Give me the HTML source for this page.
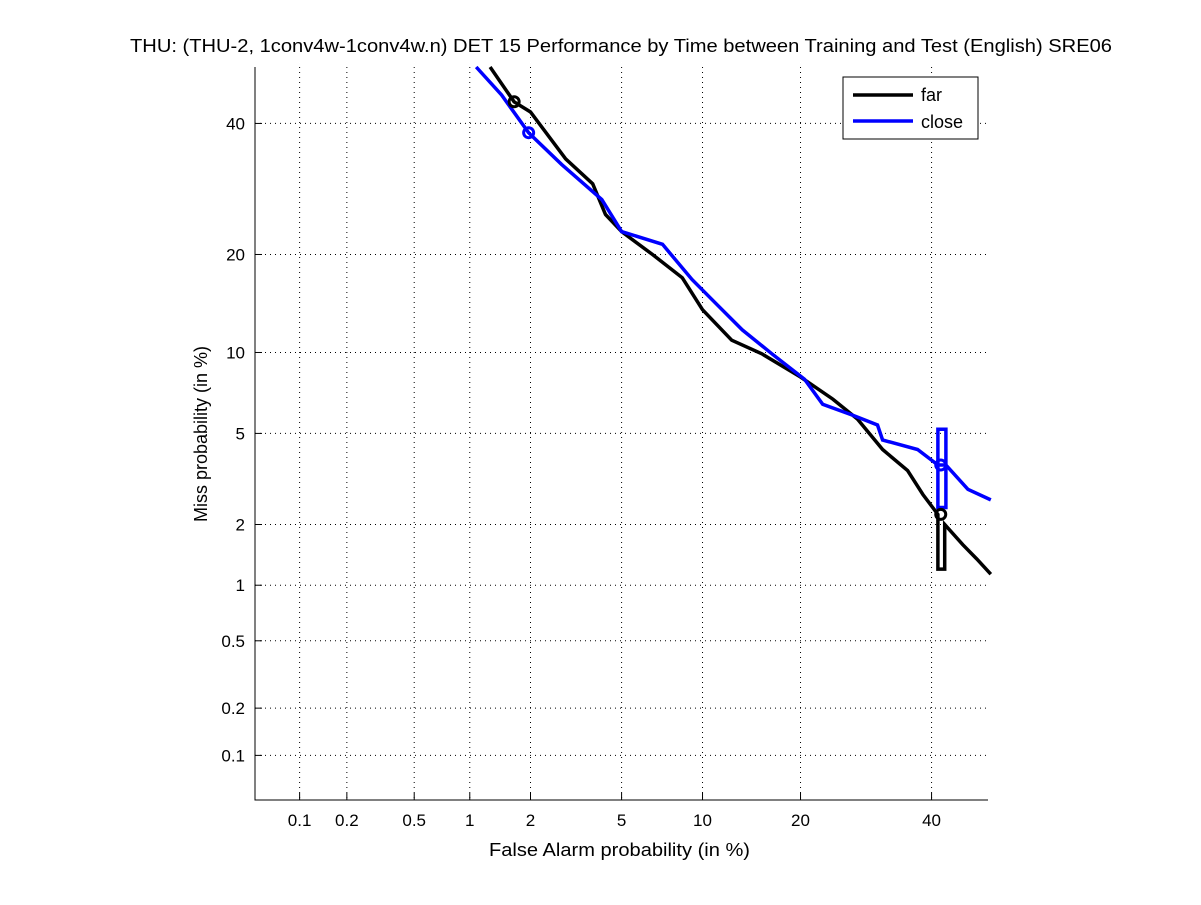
<!DOCTYPE html>
<html><head><meta charset="utf-8"><style>
body{margin:0;background:#fff;}
svg text{font-family:"Liberation Sans",sans-serif;fill:#000;}
</style></head><body>
<svg id="c" width="1201" height="900"></svg>
<script>
const xTickVals=[0.1,0.2,0.5,1,2,5,10,20,40];
const yTickVals=[0.1,0.2,0.5,1,2,5,10,20,40];
const farFA=[1.27,1.67,2.0,2.9,3.8,4.3,5,6.6,8.5,10,12.5,15.5,20,24.3,27.9,31.8,35.9,38.5,41.1,41.1,42.3,42.3,45.5,48,50.5];
const farMiss=[50,43.8,42,34,30,25.4,23,20,17.2,13.8,11,9.9,8.2,6.8,5.7,4.3,3.5,2.75,2.23,1.21,1.21,2.0,1.6,1.36,1.14];
const closeFA=[1.08,1.45,1.96,2.78,4.15,5,7.2,9.2,11.2,13.5,16.6,20.5,22.9,27.2,31,31.8,37.6,41.1,41.1,42.5,42.5,41.1,41.1,42.5,46.4,50.5];
const closeMiss=[50,45,38.4,33.1,27.6,23,21.3,17,14.3,11.9,9.9,8.05,6.5,5.9,5.4,4.7,4.3,3.7,5.2,5.2,2.4,2.4,3.7,3.7,2.9,2.6];
const farMarks=[[1.67,43.8],[41.6,2.23]];
const closeMarks=[[1.96,38.4],[41.6,3.7]];
function ppf(p){const a=[-39.6968302866538,220.946098424521,-275.928510446969,138.357751867269,-30.6647980661472,2.50662827745924],b=[-54.4760987982241,161.585836858041,-155.698979859887,66.8013118877197,-13.2806815528857],c=[-0.00778489400243029,-0.322396458041136,-2.40075827716184,-2.54973253934373,4.37466414146497,2.93816398269878],d=[0.00778469570904146,0.32246712907004,2.445134137143,3.75440866190742];let q,r;
if(p<0.02425){q=Math.sqrt(-2*Math.log(p));return(((((c[0]*q+c[1])*q+c[2])*q+c[3])*q+c[4])*q+c[5])/((((d[0]*q+d[1])*q+d[2])*q+d[3])*q+1);}
if(p>1-0.02425){q=Math.sqrt(-2*Math.log(1-p));return-(((((c[0]*q+c[1])*q+c[2])*q+c[3])*q+c[4])*q+c[5])/((((d[0]*q+d[1])*q+d[2])*q+d[3])*q+1);}
q=p-0.5;r=q*q;return(((((a[0]*r+a[1])*r+a[2])*r+a[3])*r+a[4])*r+a[5])*q/(((((b[0]*r+b[1])*r+b[2])*r+b[3])*r+b[4])*r+1);}
const L=255,R=988,T=67,B=800,P0=ppf(0.0005),P1=0.0;
const X=v=>L+(ppf(v/100)-P0)/(P1-P0)*(R-L);
const Y=v=>B-(ppf(v/100)-P0)/(P1-P0)*(B-T);
const svg=document.getElementById('c');const NS='http://www.w3.org/2000/svg';
function mk(t,at,txt){const e=document.createElementNS(NS,t);for(const k in at)e.setAttribute(k,at[k]);if(txt!==undefined)e.textContent=txt;svg.appendChild(e);return e;}
let e=mk('rect',{x:L,y:T,width:R-L,height:B-T,fill:'#fff',stroke:'none'});

xTickVals.forEach(v=>{const x=X(v);
e=mk('line',{x1:x,x2:x,y1:T,y2:B,stroke:'#000','stroke-dasharray':'1,4','stroke-width':1});
e=mk('line',{x1:x,x2:x,y1:B,y2:B-7,stroke:'#000'});
e=mk('text',{x:x,y:B+26,'text-anchor':'middle','font-size':17},String(v));});
yTickVals.forEach(v=>{const y=Y(v);
e=mk('line',{x1:L,x2:R,y1:y,y2:y,stroke:'#000','stroke-dasharray':'1,4','stroke-width':1});
e=mk('line',{x1:L,x2:L+7,y1:y,y2:y,stroke:'#000'});
e=mk('text',{x:L-10,y:y+6,'text-anchor':'end','font-size':17},String(v));});
function series(fa,ms,col,name){const pts=fa.map((v,i)=>X(v).toFixed(1)+','+Y(ms[i]).toFixed(1)).join(' ');
const s=mk('polyline',{points:pts,fill:'none',stroke:col,'stroke-width':3.5,'stroke-linejoin':'miter'});}
series(farFA,farMiss,'#000','far-curve');
series(closeFA,closeMiss,'#00f','close-curve');
farMarks.forEach(m=>{e=mk('circle',{cx:X(m[0]),cy:Y(m[1]),r:5,fill:'none',stroke:'#000','stroke-width':3});});
closeMarks.forEach(m=>{e=mk('circle',{cx:X(m[0]),cy:Y(m[1]),r:5,fill:'none',stroke:'#00f','stroke-width':3});});
e=mk('path',{d:`M${L},${T} V${B} H${R}`,fill:'none',stroke:'#000','stroke-width':1});

e=mk('text',{x:130,y:52,'font-size':18,textLength:982,lengthAdjust:'spacingAndGlyphs'},'THU: (THU-2, 1conv4w-1conv4w.n) DET 15 Performance by Time between Training and Test (English) SRE06');
e=mk('text',{x:489,y:856,'font-size':18,textLength:261,lengthAdjust:'spacingAndGlyphs'},'False Alarm probability (in %)');
e=mk('text',{x:207,y:434,'text-anchor':'middle','font-size':18,transform:'rotate(-90 207 434)'},'Miss probability (in %)');
e=mk('rect',{x:843,y:77,width:135,height:62,fill:'#fff',stroke:'#000'});
e=mk('line',{x1:853,x2:913,y1:95,y2:95,stroke:'#000','stroke-width':3.5});
e=mk('text',{x:921,y:101,'font-size':18},'far');
e=mk('line',{x1:853,x2:913,y1:121,y2:121,stroke:'#00f','stroke-width':3.5});
e=mk('text',{x:921,y:128,'font-size':18},'close');
</script>
</body></html>
